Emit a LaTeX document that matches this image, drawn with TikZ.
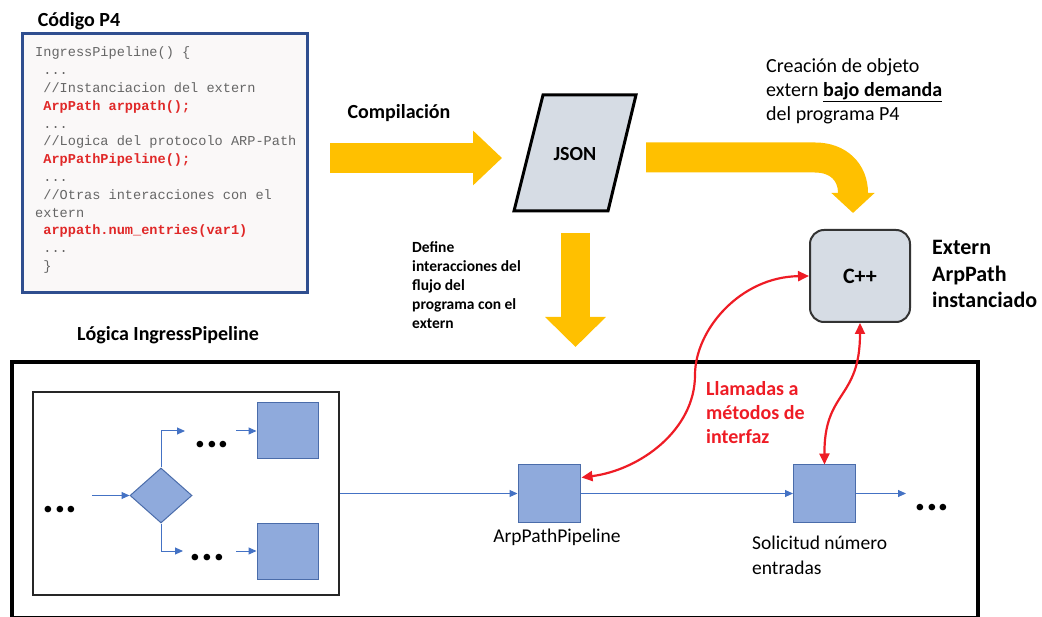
\documentclass[tikz,border=0pt]{standalone}
\usepackage{fontspec}
\setmainfont{Carlito}
\newfontfamily\codefont{Liberation Mono}
\usetikzlibrary{arrows.meta,shapes.geometric,calc}
\definecolor{orangeA}{HTML}{FFC000}
\definecolor{grayF}{HTML}{D6DCE4}
\definecolor{blueF}{HTML}{8FAADC}
\definecolor{blueB}{HTML}{4A6CAA}
\definecolor{blueA}{HTML}{4472C4}
\definecolor{redA}{HTML}{EE1C25}
\definecolor{codeB}{HTML}{2F4E8F}
\definecolor{codeF}{HTML}{FAF8F8}
\definecolor{codeT}{HTML}{666666}
\definecolor{codeR}{HTML}{E02828}
\begin{document}
\begin{tikzpicture}[x=1pt,y=-1pt,
  bluebox/.style={draw=blueB, fill=blueF, line width=1pt, minimum width=62pt, minimum height=57pt, inner sep=0pt},
  bluearr/.style={draw=blueA, line width=1pt, -{Triangle[length=8pt,width=7pt]}},
  redarr/.style={draw=redA, line width=2.2pt, {Triangle[length=11pt,width=10pt]}-{Triangle[length=11pt,width=10pt]}},
  bigarrow/.style={draw=orangeA, line width=30pt, -{Triangle[length=29pt,width=53pt]}},
  dots/.style={font=\fontsize{44}{44}\selectfont\bfseries, anchor=base, inner sep=0pt},
  code/.style={font=\codefont\fontsize{13.6}{17.8}\selectfont, text=codeT, anchor=base west, inner sep=0pt},
  codered/.style={font=\codefont\bfseries\fontsize{13.6}{17.8}\selectfont, text=codeR, anchor=base west, inner sep=0pt},
  lbl/.style={inner sep=0pt}
]
\useasboundingbox (0,0) rectangle (1042,617);

% ---------- code box ----------
\node[lbl, font=\bfseries\fontsize{20}{24}\selectfont] (tcod) at (79,21) {Código P4};
\node[draw=codeB, fill=codeF, line width=3pt, minimum width=285pt, minimum height=259pt, inner sep=0pt] (codebox) at (164.5,163.5) {};
\newcommand\ind{\hphantom{x}}
\node[code] (c1) at (35,57.0) {IngressPipeline() \{};
\node[code] (c2) at (35,74.8) {\ind...};
\node[code] (c3) at (35,92.6) {\ind//Instanciacion del extern};
\node[codered] (c4) at (35,110.4) {\ind ArpPath arppath();};
\node[code] (c5) at (35,128.2) {\ind...};
\node[code] (c6) at (35,146.0) {\ind//Logica del protocolo ARP-Path};
\node[codered] (c7) at (35,163.8) {\ind ArpPathPipeline();};
\node[code] (c8) at (35,181.6) {\ind...};
\node[code] (c9) at (35,199.4) {\ind//Otras interacciones con el};
\node[code] (c10) at (35,217.2) {extern};
\node[codered] (c11) at (35,235.0) {\ind arppath.num\_entries(var1)};
\node[code] (c12) at (35,252.8) {\ind...};
\node[code] (c13) at (35,270.6) {\ind\}};

% ---------- compile arrow and JSON ----------
\node[lbl, font=\bfseries\fontsize{20}{24}\selectfont] (tcomp) at (399,113) {Compilación};
\coordinate (o1s) at (330,158);
\coordinate (o1e) at (502,158);
\draw[bigarrow] (o1s) -- (o1e);

\draw[line width=3pt, fill=grayF, line join=miter] (514,211) -- (608,211) -- (636,95) -- (543,95) -- cycle;
\node[lbl, font=\bfseries\fontsize{20}{24}\selectfont] (json) at (575,154) {JSON};

% down arrow
\coordinate (o2s) at (575.5,233);
\coordinate (o2e) at (575.5,347);
\draw[draw=orangeA, line width=29pt, -{Triangle[length=30pt,width=59pt]}] (o2s) -- (o2e);
\node[lbl, align=left, anchor=west, font=\bfseries\fontsize{15.5}{19}\selectfont] (tdef) at (412,285)
  {Define\\interacciones del\\flujo del\\programa con el\\extern};

% curved arrow
\coordinate (o3s) at (646,157.5);
\coordinate (o3e) at (853,213);
\draw[draw=orangeA, line width=30pt, -{Triangle[length=20pt,width=42pt]}]
  (o3s) -- (815,157.5) .. controls (838,157.5) and (853,172) .. (853,193) -- (o3e);
\node[lbl, align=left, anchor=west, font=\fontsize{20}{24}\selectfont] (tcre) at (766,91)
  {Creación de objeto\\extern \underline{\textbf{bajo demanda}}\\del programa P4};

% ---------- C++ ----------
\node[draw=black!80, fill=grayF, line width=2pt, rounded corners=14pt, minimum width=100pt, minimum height=92pt, inner sep=0pt,
  font=\bfseries\fontsize{22}{26}\selectfont] (cpp) at (860,276) {C++};
\node[lbl, align=left, anchor=west, font=\bfseries\fontsize{22}{26.5}\selectfont] (text) at (932,274)
  {Extern\\ArpPath\\instanciado};

% ---------- ingress pipeline ----------
\node[lbl, font=\bfseries\fontsize{20}{24}\selectfont] (tlog) at (168,335) {Lógica IngressPipeline};
\node[draw, line width=4pt, minimum width=966pt, minimum height=256pt, inner sep=0pt] (outer) at (495,490) {};
\node[draw=black!85, line width=1.5pt, minimum width=306pt, minimum height=203pt, inner sep=0pt] (inner) at (186,493.5) {};

\node[bluebox, shape=diamond, minimum width=62pt, minimum height=55pt] (dia) at (161,495.5) {};
\node[bluebox, minimum width=61pt, minimum height=56pt] (sqtop) at (287.5,431) {};
\node[bluebox, minimum width=61pt, minimum height=56pt] (sqbot) at (287.5,551) {};
\node[bluebox] (arp) at (549,493.5) {};
\node[bluebox] (sol) at (824.5,493.5) {};

\node[dots] (d1) at (60,512) {...};
\node[dots] (d2) at (212,448) {...};
\node[dots] (d3) at (207.5,560) {...};
\node[dots] (d4) at (932,511) {...};

\coordinate (inA) at (92,495.5);
\coordinate (topA) at (185,431);
\coordinate (topB) at (236,431);
\coordinate (botA) at (183,551);
\coordinate (botB) at (236,551);
\coordinate (outA) at (906,493.5);

\draw[bluearr] (inA) -- (dia.west);
\draw[bluearr] (dia.north) |- (topA);
\draw[bluearr] (topB) -- (sqtop.west);
\draw[bluearr] (dia.south) |- (botA);
\draw[bluearr] (botB) -- (sqbot.west);
\draw[bluearr] (inner.east) -- (arp.west);
\draw[bluearr] (arp.east) -- (sol.west);
\draw[bluearr] (sol.east) -- (outA);

\node[lbl, anchor=north, font=\fontsize{19.5}{24}\selectfont] (tarp) at (557,529) {ArpPathPipeline};
\node[lbl, align=left, anchor=west, font=\fontsize{19.5}{25}\selectfont] (tsol) at (752,555) {Solicitud número\\entradas};

% ---------- red calls ----------
\draw[redarr] ($(arp.north east)+(1,13)$) .. controls (640,470) and (695,430) .. (695,375)
  .. controls (695,330) and (740,277) .. (cpp.west);
\draw[redarr] (cpp.south) .. controls (860,400) and (824,390) .. (sol.north);
\node[lbl, align=left, anchor=west, text=redA, font=\bfseries\fontsize{20}{24}\selectfont] (tcall) at (706,413)
  {Llamadas a\\métodos de\\interfaz};
\end{tikzpicture}
\end{document}
